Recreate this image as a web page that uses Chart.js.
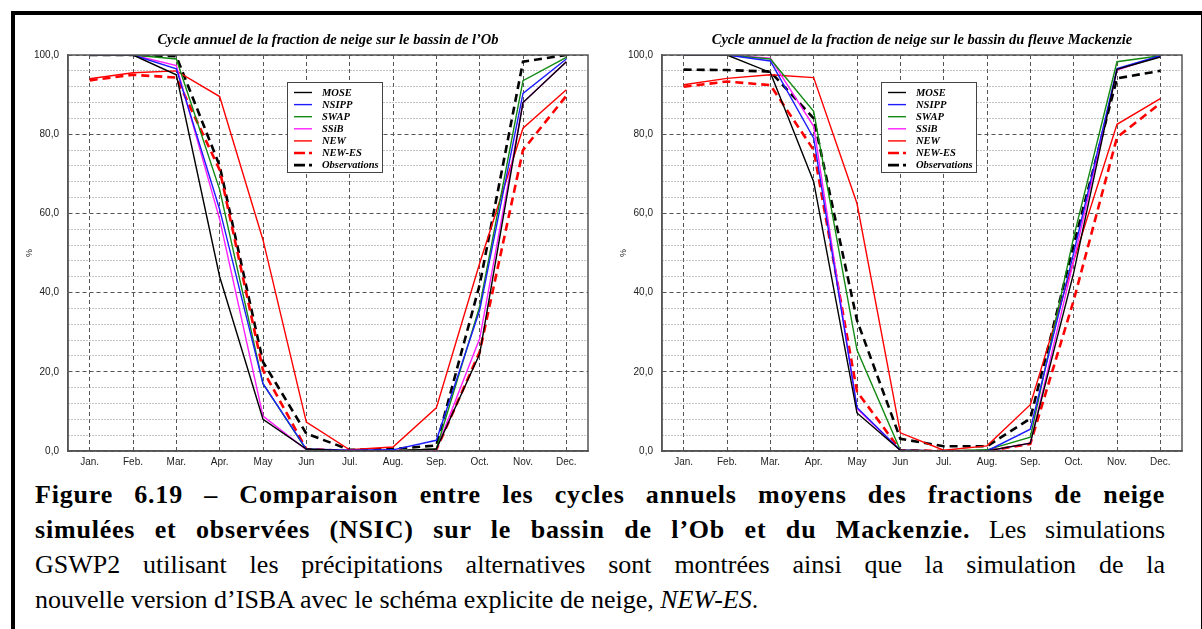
<!DOCTYPE html>
<html lang="fr">
<head>
<meta charset="utf-8">
<title>Cycle annuel de la fraction de neige</title>
<script src="https://cdn.jsdelivr.net/npm/chart.js@4.4.0/dist/chart.umd.min.js"></script>
<style>
  html, body { margin: 0; padding: 0; background: #fff; }
  body { width: 1202px; height: 629px; position: relative; overflow: hidden; }
  #frame { position: absolute; left: 11px; top: 11px; width: 1186px; height: 700px; border: 4px solid #000; }
  canvas { position: absolute; top: 28px; }
  #obChart { left: 16px; }
  #mkChart { left: 610px; }
  #caption { position: absolute; left: 35px; top: 477px; width: 1130px;
    font-family: 'Liberation Serif', 'Times New Roman', serif; font-size: 26px; line-height: 35px; color: #000; }
  .jl { text-align: justify; text-align-last: justify; }
  b { font-weight: bold; letter-spacing: 0.8px; }
</style>
</head>
<body>
<div id="frame"></div>
<canvas id="obChart" width="580" height="445"></canvas>
<canvas id="mkChart" width="580" height="445"></canvas>
<div id="caption">
  <div class="jl"><b>Figure 6.19 – Comparaison entre les cycles annuels moyens des fractions de neige</b></div>
  <div class="jl"><b>simulées et observées (NSIC) sur le bassin de l’Ob et du Mackenzie.</b> Les simulations</div>
  <div class="jl">GSWP2 utilisant les précipitations alternatives sont montrées ainsi que la simulation de la</div>
  <div>nouvelle version d’ISBA avec le schéma explicite de neige, <i>NEW-ES</i>.</div>
</div>
<script>
'use strict';

// Data
const months = ['Jan.', 'Feb.', 'Mar.', 'Apr.', 'May', 'Jun', 'Jul.', 'Aug.', 'Sep.', 'Oct.', 'Nov.', 'Dec.'];
const seriesNames = ['MOSE', 'NSIPP', 'SWAP', 'SSiB', 'NEW', 'NEW-ES', 'Observations'];
const yTickLabels = ['0,0', '20,0', '40,0', '60,0', '80,0', '100,0'];

// Ob basin (%)
const obMose = [100, 100, 95, 44, 8, 0.5, 0, 0, 0.5, 24.5, 88, 98.3];
const obNsipp = [100, 100, 96.5, 61, 17, 0.5, 0.2, 0.3, 2.7, 35.5, 90.3, 99];
const obSwap = [100, 100, 99, 66, 17, 0.3, 0, 0, 0.5, 36.5, 93.5, 99.4];
const obSsib = [100, 100, 97.3, 58.5, 8.8, 0.3, 0, 0, 0.3, 28.4, 88, 98.3];
const obNew = [94, 95.5, 96, 89.5, 53.3, 7.3, 0.3, 1, 10.9, 47.4, 81.5, 91.2];
const obNewEs = [93.6, 95, 94.3, 71, 20.4, 0.5, 0, 0, 0.3, 25, 76, 89.7];
const obObs = [100, 100, 99.7, 72, 22.5, 4.4, 0.3, 0.5, 1.4, 42, 98.3, 100];

// Mackenzie basin (%)
const mkMose = [100, 100, 95.6, 68, 9.6, 0.2, 0, 0, 2, 45, 96.4, 99.5];
const mkNsipp = [100, 100, 98.5, 79, 11, 0.2, 0, 0, 5.5, 50, 96.6, 99.8];
const mkSwap = [100, 100, 99, 85.8, 25.5, 0.2, 0, 0.3, 3.5, 54, 98.3, 99.8];
const mkSsib = [100, 100, 99.2, 82, 10.7, 0.2, 0, 0, 2, 48, 96.2, 99.8];
const mkNew = [92.5, 94.1, 95, 94.3, 62.5, 4.6, 0.2, 1.3, 11.7, 48, 82.5, 89];
const mkNewEs = [92, 93.3, 92.4, 76, 15, 0.2, 0, 0, 1.8, 38, 79.2, 87.8];
const mkObs = [96.3, 96.2, 95.8, 84, 33, 3.1, 1.2, 1.2, 8.2, 52, 94.1, 96];

// Styles
const seriesColors = ['#000000', '#1c1cff', '#138a13', '#ff1eff', '#ff0000', '#ff0000', '#000000'];
const seriesDash = [[], [], [], [], [], [8, 5], [8, 5]];
const seriesWidth = [1.4, 1.4, 1.4, 1.4, 1.4, 2.6, 2.6];

function buildDatasets(values){
  return values.map((data, i) => ({
    label: seriesNames[i],
    data: data,
    borderColor: seriesColors[i],
    backgroundColor: seriesColors[i],
    borderDash: seriesDash[i],
    borderWidth: seriesWidth[i],
    pointRadius: 0,
    tension: 0,
    fill: false
  }));
}

// Frame, title and legend box drawn on top of the plot
const decorPlugin = {
  id: 'decor',
  afterDraw(chart, args, opts){
    const {ctx, chartArea: a} = chart;
    ctx.save();
    ctx.strokeStyle = '#555';
    ctx.lineWidth = 1.5;
    ctx.setLineDash([]);
    ctx.strokeRect(a.left, a.top, a.right - a.left, a.bottom - a.top);

    ctx.fillStyle = '#000';
    ctx.font = 'italic bold 14.5px "Liberation Serif", serif';
    ctx.textAlign = 'center';
    ctx.textBaseline = 'middle';
    ctx.fillText(opts.title, (a.left + a.right) / 2, a.top - 15);

    // legend
    let bx = a.left + 219;
    let by = a.top + 27;
    ctx.fillStyle = '#fff';
    ctx.fillRect(bx, by, 95, 90);
    ctx.strokeStyle = '#444';
    ctx.lineWidth = 1;
    ctx.strokeRect(bx + 0.5, by + 0.5, 95, 90);
    ctx.font = 'italic bold 10.5px "Liberation Serif", serif';
    ctx.textAlign = 'left';
    chart.data.datasets.forEach((ds, i) => {
      let yy = by + 10.5 + 12.1 * i;
      ctx.strokeStyle = ds.borderColor;
      ctx.lineWidth = ds.borderWidth;
      ctx.setLineDash(ds.borderDash.length ? [11, 4] : []);
      ctx.beginPath();
      ctx.moveTo(bx + 7, yy);
      ctx.lineTo(bx + 25, yy);
      ctx.stroke();
      ctx.setLineDash([]);
      ctx.fillStyle = '#000';
      ctx.fillText(ds.label, bx + 35, yy + 0.5);
    });
    ctx.restore();
  }
};

function makeOptions(title){
  return {
    responsive: false,
    animation: false,
    layout: { padding: { top: 27, right: 8, bottom: 0, left: 0 } },
    plugins: {
      legend: { display: false },
      tooltip: { enabled: false },
      decor: { title: title }
    },
    scales: {
      x: {
        offset: true,
        afterFit: scale => { scale.height = 22; },
        grid: { color: '#555', lineWidth: 1, drawTicks: false, offset: false },
        border: { display: true, color: '#555', width: 1.5, dash: [4, 3] },
        ticks: { color: '#222', padding: 5, font: { family: 'Liberation Sans', size: 10 } }
      },
      y: {
        min: 0,
        max: 100,
        afterFit: scale => { scale.width = 52; },
        title: { display: true, text: '%', color: '#222', font: { family: 'Liberation Sans', size: 9 }, padding: { top: 8, bottom: 0 } },
        grid: {
          drawTicks: false,
          lineWidth: 1,
          color: ctx => (ctx.tick && ctx.tick.value % 20 !== 0) ? '#8a8a8a' : '#555'
        },
        border: {
          display: true, color: '#555', width: 1.5,
          dash: ctx => (ctx.tick && ctx.tick.value % 20 !== 0) ? [1, 2] : [4, 3]
        },
        ticks: {
          stepSize: 4,
          autoSkip: false,
          color: '#222',
          padding: 9,
          font: { family: 'Liberation Sans', size: 10 },
          callback: v => (v % 20 === 0) ? yTickLabels[v / 20] : ''
        }
      }
    }
  };
}

new Chart(document.getElementById('obChart'), { // eslint-disable-line
  type: 'line',
  data: {
    labels: months,
    datasets: buildDatasets([obMose, obNsipp, obSwap, obSsib, obNew, obNewEs, obObs])
  },
  options: makeOptions('Cycle annuel de la fraction de neige sur le bassin de l’Ob'),
  plugins: [decorPlugin]
});

new Chart(document.getElementById('mkChart'), { // eslint-disable-line
  type: 'line',
  data: {
    labels: months,
    datasets: buildDatasets([mkMose, mkNsipp, mkSwap, mkSsib, mkNew, mkNewEs, mkObs])
  },
  options: makeOptions('Cycle annuel de la fraction de neige sur le bassin du fleuve Mackenzie'),
  plugins: [decorPlugin]
});
</script>
</body>
</html>
